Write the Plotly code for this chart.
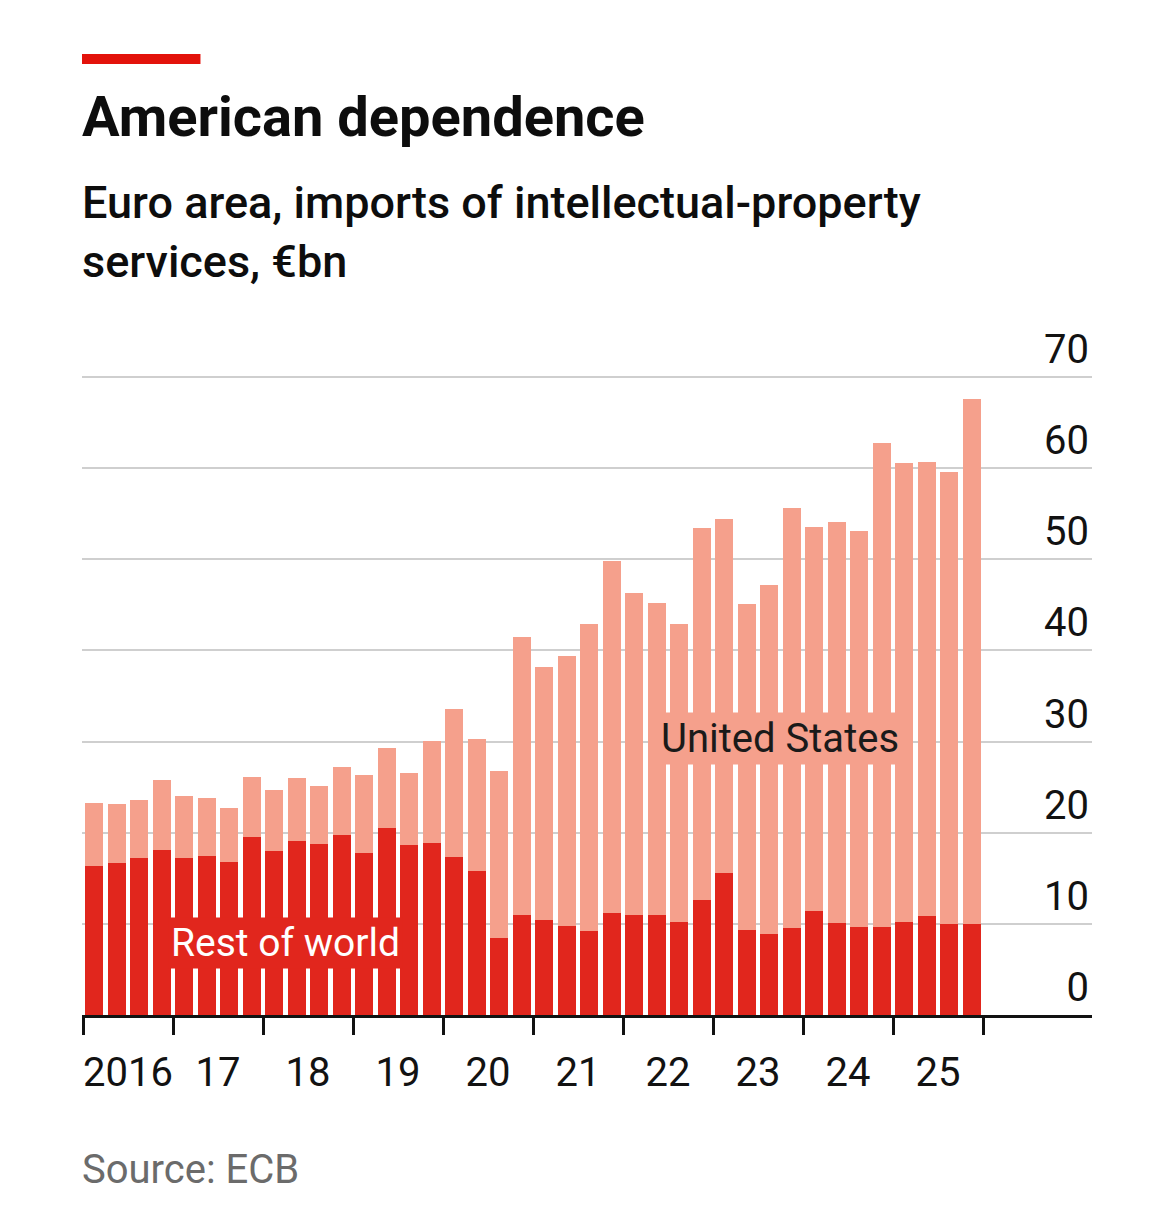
import plotly.graph_objects as go

quarters = [f"{y}Q{q}" for y in range(2016, 2026) for q in range(1, 5)]
rest_of_world = [16.4, 16.7, 17.2, 18.1, 17.2, 17.5, 16.8, 19.5, 18.0, 19.1, 18.8, 19.8,
                 17.8, 20.5, 18.6, 18.9, 17.3, 15.8, 8.4, 11.0, 10.4, 9.8, 9.2, 11.2,
                 11.0, 11.0, 10.2, 12.6, 15.6, 9.3, 8.9, 9.6, 11.4, 10.1, 9.7, 9.7,
                 10.2, 10.9, 10.0, 10.0]
united_states = [6.9, 6.4, 6.4, 7.7, 6.8, 6.3, 5.9, 6.6, 6.7, 6.9, 6.3, 7.4,
                 8.5, 8.8, 7.9, 11.2, 16.3, 14.5, 18.4, 30.5, 27.8, 29.6, 33.7, 38.6,
                 35.3, 34.2, 32.7, 40.8, 38.8, 35.8, 38.3, 46.0, 42.1, 44.0, 43.4, 53.1,
                 50.4, 49.8, 49.6, 57.6]
year_labels = ["2016", "17", "18", "19", "20", "21", "22", "23", "24", "25"]
y_ticks = [0, 10, 20, 30, 40, 50, 60, 70]

RED = "#E1261D"
SALMON = "#F5A08C"
FONT = "Roboto"

OFF = 8  # default page margin of the browser
W, H = 1165 - 2 * OFF, 1218 - 2 * OFF
PLOT_L, PLOT_R = 82, 1088
PLOT_T, PLOT_B = 318, 1015
PX_PER_UNIT_Y = (1015 - 377) / 70.0
PX_PER_Q = 22.5

xpos = list(range(len(quarters)))
x_lo = -0.5 - (83 - PLOT_L) / PX_PER_Q
x_hi = x_lo + (PLOT_R - PLOT_L) / PX_PER_Q
y_hi = (PLOT_B - PLOT_T) / PX_PER_UNIT_Y


def py(p):
    """reference pixel row -> paper y"""
    return (PLOT_B - p) / (PLOT_B - PLOT_T)


def px(p):
    return (p - PLOT_L) / (PLOT_R - PLOT_L)


fig = go.Figure()
fig.add_trace(go.Bar(x=xpos, y=rest_of_world, name="Rest of world",
                     marker=dict(color=RED, line=dict(width=0))))
fig.add_trace(go.Bar(x=xpos, y=united_states, name="United States",
                     marker=dict(color=SALMON, line=dict(width=0))))

year_centers = [4 * i + 1.5 for i in range(len(year_labels))]
year_bounds = [4 * i - 0.5 for i in range(len(year_labels) + 1)]

fig.update_layout(
    width=W, height=H,
    barmode="stack", bargap=0.22,
    showlegend=False,
    plot_bgcolor="white", paper_bgcolor="white",
    margin=dict(l=PLOT_L - OFF, r=W - (PLOT_R - OFF) - 4, t=PLOT_T - OFF,
                b=H - (PLOT_B - OFF), pad=0),
    font=dict(family=FONT, color="#121212"),
    xaxis=dict(
        range=[x_lo, x_hi + 4 / PX_PER_Q], showgrid=False, zeroline=False,
        showline=True, linecolor="#121212", linewidth=3,
        tickmode="array", tickvals=year_centers, ticktext=year_labels,
        ticks="outside", ticklen=17, tickcolor="rgba(0,0,0,0)", tickwidth=3,
        ticklabelstandoff=3,
        tickfont=dict(size=40, color="#121212"),
        minor=dict(tickmode="array", tickvals=year_bounds, ticks="outside",
                   ticklen=17, tickwidth=3, tickcolor="#121212", showgrid=False),
        fixedrange=True,
    ),
    yaxis=dict(
        range=[0, y_hi], side="right",
        tickmode="array", tickvals=y_ticks,
        ticklabelposition="inside top",
        showgrid=True, gridcolor="#CFCFCF", gridwidth=2,
        zeroline=False, showline=False, ticks="",
        tickfont=dict(size=40, color="#121212"),
        fixedrange=True,
    ),
)

# red brand bar
fig.add_shape(type="rect", xref="paper", yref="paper",
              x0=px(82), x1=px(200), y0=py(64), y1=py(54),
              fillcolor="#E3120B", line=dict(width=0))

# title and subtitle
fig.add_annotation(text="<b>American dependence</b>", xref="paper", yref="paper",
                   x=px(80), y=py(117), xanchor="left", yanchor="middle",
                   showarrow=False, font=dict(size=56, color="#0d0d0d", family=FONT))
fig.add_annotation(text="Euro area, imports of intellectual-property<br>services, €bn",
                   xref="paper", yref="paper", align="left",
                   x=px(80), y=py(232), xanchor="left", yanchor="middle",
                   showarrow=False,
                   font=dict(size=45, color="#0d0d0d", family=FONT, weight=500))

# series labels
fig.add_annotation(text="Rest of world", x=8.48, y=(PLOT_B - 943) / PX_PER_UNIT_Y,
                   xref="x", yref="y", showarrow=False, bgcolor=RED, borderpad=2,
                   font=dict(size=39, color="white", family=FONT))
fig.add_annotation(text="United States", x=30.48, y=(PLOT_B - 738) / PX_PER_UNIT_Y,
                   xref="x", yref="y", showarrow=False, bgcolor=SALMON, borderpad=2,
                   font=dict(size=40, color="#1a1a1a", family=FONT))

# source
fig.add_annotation(text="Source: ECB", xref="paper", yref="paper",
                   x=px(80), y=py(1169), xanchor="left", yanchor="middle",
                   showarrow=False, font=dict(size=40, color="#6b6b6b", family=FONT))

fig.write_html("out.html")
